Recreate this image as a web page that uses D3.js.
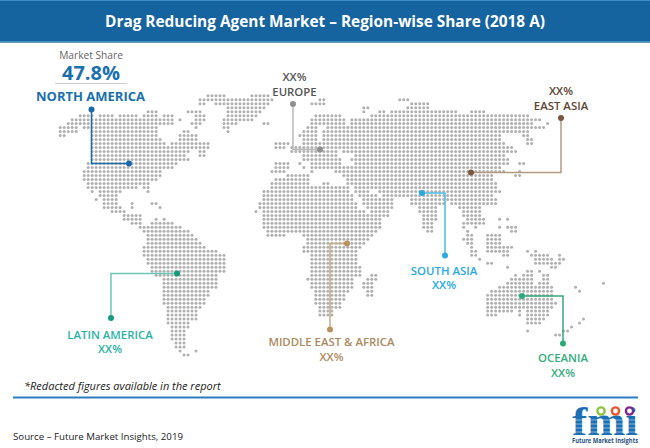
<!DOCTYPE html>
<html>
<head>
<meta charset="utf-8">
<script src="https://d3js.org/d3.v7.min.js"></script>
<style>
	html, body { margin: 0; padding: 0; background: #fff; }
	svg { display: block; font-family: "Open Sans", sans-serif; }
</style>
</head>
<body>
<svg id="chart"></svg>
<script>
var width = 650;
var height = 448;

var titleText = 'Drag Reducing Agent Market – Region-wise Share (2018 A)';
var noteText = '*Redacted figures available in the report';
var sourceText = 'Source – Future Market Insights, 2019';
var shareLabel = 'Market Share';

var regionNames = ['NORTH AMERICA', 'EUROPE', 'EAST ASIA', 'SOUTH ASIA', 'LATIN AMERICA', 'MIDDLE EAST & AFRICA', 'OCEANIA'];
var regionShares = ['47.8%', 'XX%', 'XX%', 'XX%', 'XX%', 'XX%', 'XX%'];

// land cells of the dot map, one string per grid row, "from-to" columns
var landRows = [
	'37-41,48-52',
	'35-53,65-66,85-87',
	'35-36,39-52,63-66,88-92',
	'42-51,76-77,87-92',
	'22-24,32-35,42-50,76,80-81,83-99,103-106',
	'5-8,10-13,15-19,21-24,26-28,34-36,42-49,64-70,78-117',
	'3-28,30,34-36,41-48,63-71,73-120',
	'2-28,33-35,41-44,51-52,63-71,73-118,122',
	'0-4,6-24,34,41-42,62-64,67-121',
	'0-4,8-24,31-32,42,61-64,66-117',
	'0-1,8-24,30-34,60-64,66-110,116-117',
	'8-25,30-34,61-64,66-110,117-118',
	'8-26,28-37,54-57,61-111,117-118',
	'8-26,27-37,54-56,58-113',
	'8-32,35-36,58-69,71-114',
	'8-31,35-36,61-69,74-111',
	'8-32,61-70,73-112',
	'7-29,54-57,60,63-70,74-112,115-116',
	'7-28,54-57,61,63-64,65-70,71-110',
	'6-25,53-56,63,69-111,115',
	'6-25,57-62,71-108,114-115',
	'6-24,54-62,72-108',
	'7-22,53-62,66-67,72-109',
	'7-19,21-22,53-72,74-109',
	'8,10-15,22,51-72,74-77,80-110',
	'10-14,51-73,75-79,81-108',
	'9,11-14,51-73,76-83,88-109',
	'11-14,18,23-24,50-74,76-83,88-96,98-109',
	'11-15,18,25,50-74,77-83,90-94,100-105',
	'13-16,49,51-76,78-82,90-94,101-105',
	'16-20,51-76,77-82,91-94,101-105',
	'16-20,24,26,51-77,78-80,91-94,102-106,110,112',
	'18-20,23-28,51-80,91-93,101-106',
	'20,21-30,51-80,91-93,101,104,110,112-114',
	'21-32,52-79,92-93,102,113-114',
	'22-33,52-56,61-78,102-103,107-110',
	'22-34,62-77,101-103,107-110',
	'22-35,62-76,102-103,107-110',
	'21-36,61-75,103,107-111,112-113',
	'21-39,61-74,103-104,107-110,111-112,117,119',
	'21-41,63-74,103-104,111-112,118-122,125',
	'22-41,63-74,105,119-123,125-126',
	'22-41,63-74,107-108,119-125',
	'23-41,63-75,112,123-124',
	'23-41,63-75,117-118,120',
	'24-39,63-75,78-79,114,116-118,121-122',
	'26-39,62,63-73,77-79,113-118,121-122',
	'26-39,63-73,76-78,112-118,120-122,136',
	'26-39,63-73,76-78,110-123,129',
	'26-37,64-72,77-78,108-123,130',
	'26-37,64-71,77-78,107-123',
	'26-36,64-71,107-123',
	'26-36,64-70,107-124',
	'27-35,65-70,107-123',
	'27-34,65-68,107-113,115,117-122',
	'27-34,65-68,107-109,115,117-122',
	'27-34,117-121,131',
	'27-32,117-120,130',
	'28-32,128',
	'28-31,117,126-127',
	'28-31,124-125',
	'28-31',
	'29-31',
	'29-31',
	'30,34',
	'31-32'
];

// expand the row strings to one object per dot
function landCells() {
	var cells = [];
	landRows.forEach(function(row, r) {
		row.split(',').forEach(function(run) {
			var ends = run.split('-').map(Number);
			d3.range(ends[0], (ends.length > 1 ? ends[1] : ends[0]) + 1).forEach(function(c) {
				cells.push({ col: c, row: r });
			});
		});
	});
	return cells;
}

var svg = d3.select('#chart')
	.attr('width', width)
	.attr('height', height);

var xGrid = d3.scaleLinear().domain([0, 136]).range([60.2, 603.5]);
var yGrid = d3.scaleLinear().domain([0, 65]).range([95.7, 355]);

// header band
svg.append('rect').attr('width', width).attr('height', 42.5).attr('fill', '#15639f');
svg.append('rect').attr('width', width).attr('height', 1).attr('fill', '#3d8cc6');
svg.append('rect').attr('y', 41).attr('width', width).attr('height', 1.5).attr('fill', '#3f8bbd');
svg.append('text')
	.attr('x', 325)
	.attr('y', 26.5)
	.attr('text-anchor', 'middle')
	.attr('font-size', 15.4)
	.attr('font-weight', 700)
	.attr('fill', '#fff')
	.text(titleText);

// dot map
svg.append('g').selectAll('circle')
	.data(landCells())
	.enter()
	.append('circle')
	.attr('cx', function(d) { return xGrid(d.col); })
	.attr('cy', function(d) { return yGrid(d.row); })
	.attr('r', 1.5)
	.attr('fill', '#b0b0b0');

// callouts, same order as regionNames
var callouts = [
	{ path: [[91.5, 109.5], [91.5, 163.5], [129, 163.5]], line: '#1f6cab', dot: '#1a69ab', text: '#1a6fae', labelY: 101, size: 13, weight: 700 },
	{ path: [[293, 104], [293, 149.5], [320, 149.5]], line: '#b9b9b9', dot: '#8f8f8f', text: '#555', labelY: 96, shareY: 81 },
	{ path: [[561, 118], [561, 172.5], [471, 172.5]], line: '#b39a84', dot: '#7b5640', text: '#5d4433', labelY: 110, shareY: 95 },
	{ path: [[422, 193], [445, 193], [445, 255.5]], line: '#4dbde6', dot: '#29a9df', text: '#29a9df', labelY: 275, shareY: 289 },
	{ path: [[177, 273.5], [111, 273.5], [111, 318]], line: '#6cc7b8', dot: '#16997f', text: '#2ab3a2', labelY: 339, shareY: 353 },
	{ path: [[347, 243.5], [330, 243.5], [330, 329.5]], line: '#c6ab84', dot: '#b8925f', text: '#ac8a60', labelY: 346, shareY: 361 },
	{ path: [[522, 296], [563, 296], [563, 343.5]], line: '#34a97c', dot: '#2bab78', text: '#35ad80', labelY: 362, shareY: 377 }
];
var labelX = [90.5, 294.5, 561, 444, 110, 331.5, 563];

var leader = d3.line();

callouts.forEach(function(c, i) {
	svg.append('path')
		.attr('d', leader(c.path))
		.attr('fill', 'none')
		.attr('stroke', c.line)
		.attr('stroke-width', 1.5);

	svg.selectAll(null)
		.data([c.path[0], c.path[2]])
		.enter()
		.append('circle')
		.attr('cx', function(d) { return d[0]; })
		.attr('cy', function(d) { return d[1]; })
		.attr('r', 3)
		.attr('fill', c.dot);

	svg.append('text')
		.attr('x', labelX[i])
		.attr('y', c.labelY)
		.attr('text-anchor', 'middle')
		.attr('font-size', c.size || 11.4)
		.attr('font-weight', c.weight || 600)
		.attr('fill', c.text)
		.text(regionNames[i]);

	// north america has its big share block instead
	if (c.shareY) {
		svg.append('text')
			.attr('x', labelX[i])
			.attr('y', c.shareY)
			.attr('text-anchor', 'middle')
			.attr('font-size', 11.4)
			.attr('font-weight', 600)
			.attr('fill', c.text)
			.text(regionShares[i]);
	}
});

svg.append('text')
	.attr('x', 91)
	.attr('y', 59)
	.attr('text-anchor', 'middle')
	.attr('font-size', 10.2)
	.attr('fill', '#666')
	.text(shareLabel);
svg.append('text')
	.attr('x', 91)
	.attr('y', 79.5)
	.attr('text-anchor', 'middle')
	.attr('font-size', 20)
	.attr('font-weight', 700)
	.attr('fill', '#1a6fae')
	.text(regionShares[0]);
svg.append('line')
	.attr('x1', 55).attr('x2', 127)
	.attr('y1', 83.5).attr('y2', 83.5)
	.attr('stroke', '#ccc');

// footer
svg.append('text')
	.attr('x', 24)
	.attr('y', 390)
	.attr('font-size', 11)
	.attr('font-style', 'italic')
	.attr('fill', '#222')
	.text(noteText);
svg.append('line')
	.attr('x1', 13).attr('x2', 638)
	.attr('y1', 397.5).attr('y2', 397.5)
	.attr('stroke', '#2a7cc0')
	.attr('stroke-width', 1.8);
svg.append('text')
	.attr('x', 13)
	.attr('y', 440)
	.attr('font-size', 9.7)
	.attr('fill', '#222')
	.text(sourceText);

// fmi logo
var logo = svg.append('g');
logo.append('text')
	.attr('x', 572)
	.attr('y', 435)
	.attr('font-family', '"Liberation Serif", serif')
	.attr('font-size', 40)
	.attr('font-weight', 700)
	.attr('textLength', 66)
	.attr('lengthAdjust', 'spacingAndGlyphs')
	.attr('fill', '#1b6fb5')
	.text('fmi');
logo.selectAll('.stripe')
	.data([420, 424, 428, 432])
	.enter()
	.append('line')
	.attr('class', 'stripe')
	.attr('x1', 570).attr('x2', 640)
	.attr('y1', function(d) { return d; })
	.attr('y2', function(d) { return d; })
	.attr('stroke', '#fff')
	.attr('stroke-width', 0.5);
logo.selectAll('circle')
	.data([[601, '#8cc63f'], [615.5, '#e8582c'], [629.5, '#7d2a8e']])
	.enter()
	.append('circle')
	.attr('cx', function(d) { return d[0]; })
	.attr('cy', 411)
	.attr('r', 3.6)
	.attr('fill', '#fff')
	.attr('stroke', function(d) { return d[1]; })
	.attr('stroke-width', 2.4);
logo.append('text')
	.attr('x', 572)
	.attr('y', 443)
	.attr('font-size', 6.2)
	.attr('font-weight', 700)
	.attr('textLength', 66)
	.attr('lengthAdjust', 'spacingAndGlyphs')
	.attr('fill', '#1d4f7c')
	.text('Future Market Insights');
</script>
</body>
</html>
